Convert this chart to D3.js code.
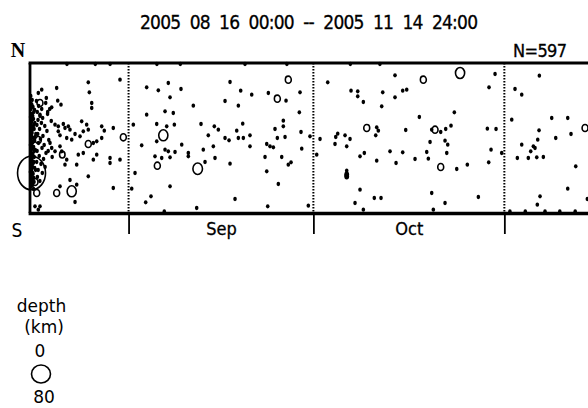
<!DOCTYPE html>
<html>
<head>
<meta charset="utf-8">
<script src="https://cdn.jsdelivr.net/npm/d3@7"></script>
<style>
body { margin: 0; background: #fff; }
svg text { font-family: "Liberation Sans Narrow", "DejaVu Sans Condensed", sans-serif; fill: #000; }
</style>
</head>
<body>
<svg id="chart" width="588" height="408"></svg>
<script>
// days since 2005-08-16 00:00, distance north of the S edge (0..150), magnitude (2 if left out)
var title = "2005  08  16  00:00  --  2005  11  14  24:00";
var countLabel = "N=597";
var tickMonths = ["2005-09-01", "2005-10-01", "2005-11-01"];
var depthLegend = ["depth", "(km)", "0", "80"];

var mainShock = [0.25, 40, 7.2];

var aftershocks = [
  [0.12,117],[0.35,113],[0.21,109],[0.48,106],[0.15,104],[0.62,101],[0.30,99],[0.09,96],[0.55,94],[0.27,91],
  [0.78,90],[0.18,88],[0.42,86],[0.66,84],[0.11,82],[0.33,80],[0.95,79],[0.24,77],[0.51,75],[0.14,73],
  [0.72,72],[0.37,70],[0.08,68],[0.58,66],[0.29,64],[0.86,63],[0.19,61],[0.45,59],[0.10,57],[0.68,56],
  [0.32,54],[0.23,52],[0.53,50],[0.13,48],[0.40,46],[0.76,45],[0.26,43],[0.07,41],[0.49,39],[0.17,37],
  [0.61,35],[0.34,33],[0.22,31],[0.44,28],[0.12,26],[0.57,24],[0.31,108],[0.74,103],[0.44,97],[0.20,93],
  [0.63,88],[0.35,83],[0.16,79],[0.83,76],[0.47,71],[0.25,67],[0.70,62],[0.38,58],[0.14,55],[0.60,51],
  [0.28,47],[0.90,43],[0.42,40],[0.18,36],[0.65,31],[0.36,29],
  [1.05,112],[1.40,107],[1.18,101],[1.62,97],[1.30,93],[2.05,95],[1.85,90],[1.12,88],[2.40,87],[1.55,84],
  [2.75,82],[1.25,79],[2.10,77],[1.70,74],[3.05,73],[1.38,70],[2.30,68],[1.95,65],[1.15,62],[2.60,60],
  [1.50,57],[2.20,54],[1.08,51],[1.78,49],[2.45,46],[1.32,43],[2.00,40],[1.20,36],[1.60,32],[2.55,110],
  [3.20,104],[2.85,99],[3.45,92],[2.95,62],[3.60,56],[1.90,104],[2.65,115],
  [1.35,73,3.5],[0.81,31,3.5],[1.09,20,3.5]
];

var augEvents = [
  [4.33,125],[9.46,130.7],[9.63,120.7],[10.02,110],[10.02,105],[14.61,133.3],[1.90,123.3],[1.35,120],
  [1.62,110,3.5],[4.50,112.3],[5.03,108.3],[3.52,105.7],[2.87,101],[1.62,98.3],[4.06,88.3],[4.59,86.7],
  [5.41,89],[5.68,85],[6.22,86.7],[6.49,83.3],[8.39,91.7],[9.20,88.3],[9.46,83.3],[11.64,86.7],
  [12.06,82.3],[13.52,85],[4.59,81.7],[4.87,77.7],[5.96,75],[6.77,73.3],[7.31,79],[8.12,76.7],
  [8.65,81.7],[9.46,69,3.5],[10.28,70],[10.83,71.7],[11.64,75],[15.15,75.7,3.5],[4.87,66.7],[5.15,61.7],
  [5.24,58.3,3.3],[3.25,70],[3.52,65],[4.06,61.7],[7.84,58.3],[8.65,60],[7.58,48.3],[10.28,53.3],
  [10.83,58.3],[12.99,55],[12.99,50],[14.61,53.3],[5.96,53.3],[5.68,48.3],[9.46,36.7],[13.52,25],
  [4.87,26.7],[4.33,20,3.5],[6.77,21.7,4.5],[7.58,28.3],[6.49,33],[7.31,11],[0.81,6.7],[1.35,3.3],
  [1.62,6.7],[6.0,149],[10.6,149],[13.0,149]
];

var sepEvents = [
  [18.94,125.7],[20.83,122.7],[22.45,130],[24.51,124],[22.73,115.7],[26.51,107.3],[31.66,112],[18.94,98.3],
  [21.92,101.7],[23.26,100],[16.77,88.3],[20.57,89],[22.19,86.7],[23.43,88.3],[27.76,89],[29.92,86.7],
  [30.57,83.3],[21.64,77.7,4.5],[20.57,71.7],[28.94,77.7],[31.66,75],[18.13,67.7],[21.92,63.3],[22.45,61.7],
  [23.54,61],[24.63,68.3],[25.70,60],[25.70,56.7],[28.13,63.3],[29.76,66.7],[20.29,56.7],[21.38,55],
  [22.73,55.7],[28.41,51],[30.03,55],[20.67,47.3,3.5],[27.22,44.3,4.6],[17.05,40],[22.73,26.7],[16.51,24.3],
  [19.64,16.7],[18.78,10.7],[27.06,5],[21.80,1.5],
  [32.47,131],[41.93,133.3,3.5],[34.20,122.3],[35.99,118.3],[38.69,120],[40.15,114.3,3.5],[41.56,112.3],
  [43.83,120.7],[33.82,107.3],[43.72,100.7],[34.53,89.3],[41.12,92.3],[41.12,86.7],[33.56,82.3],[39.77,84],
  [32.31,72.7],[33.82,75],[34.63,75],[35.71,77.7],[40.15,75],[41.40,76],[43.99,81],[45.45,76.7],[38.43,69],
  [38.96,66.7],[39.50,65.7],[35.71,66.7],[44.11,64.3],[38.15,56],[40.86,56],[42.37,50.7],[41.93,48.3],
  [32.47,49.3],[38.43,41.7],[40.31,29],[33.28,14],[38.59,6.7],[45.18,7.3],
  [20.6,149],[24.4,149],[34.9,149],[41.7,149]
];

var octEvents = [
  [46.54,58.3],[48.33,130.7],[59.25,137.7],[52.11,122.3],[53.20,121.7],[53.20,116.7],[57.26,120.7],
  [60.50,122.3],[61.15,123.3],[54.11,111],[59.25,115.7],[57.09,106.7],[54.66,85,3.5],[56.28,85.7],
  [56.54,82.3],[56.12,77.7],[60.99,83],[47.08,74],[49.95,79.3],[49.63,76],[51.14,77.7],[51.95,74],
  [49.51,69],[51.41,66.7],[54.27,60],[53.57,56.7],[56.28,52.3],[58.44,61.7],[60.50,60.7],[59.42,50],
  [62.50,54],[51.41,36.5,3],[51.41,38.5,3],[51.41,42.3],[53.57,23.3],[55.89,15],[56.98,15],[52.76,10],
  [54.11,3.3],
  [63.85,133.3,3.5],[69.81,140,4.5],[75.49,139],[74.51,125.7],[68.88,100.7],[63.20,96],[65.75,83.3,3.5],
  [65.21,83.3],[66.67,81],[67.48,84],[68.34,87.3],[74.24,84.3],[75.65,84],[64.94,71],[67.37,72.3],
  [67.81,68.3],[64.40,61],[67.65,60],[74.84,63.3],[76.57,60],[64.66,54.3],[74.46,50.7],[66.67,46,3.5],
  [69.27,44],[70.99,48.3],[65.21,20],[72.78,16],[67.37,10],[65.47,3.3],
  [52.0,149],[56.8,149]
];

var novEvents = [
  [82.68,137.3],[78.73,124],[79.82,118.3],[78.20,93.3],[84.69,95],[87.29,95],[90.10,85,3.5],[82.63,82.7],
  [87.82,79],[85.34,75],[82.42,73.3],[79.82,68.3],[81.71,66.7],[81.98,65],[81.28,61.7],[79.11,55],
  [80.89,55],[82.26,55.7],[83.33,56],[88.59,46.7],[87.29,24.3],[82.79,16.7],[82.35,8.3],[90.47,14],
  [77.9,1.5],[80.4,1.5],[83.6,1.5],[86.0,1.5],[88.5,1.5]
];

var t0 = Date.UTC(2005, 7, 16);
var t1 = Date.UTC(2005, 10, 15);
function when(day) { return new Date(t0 + day * 864e5); }

var x = d3.scaleUtc().domain([t0, t1]).range([30, 590.6]);
var y = d3.scaleLinear().domain([0, 150]).range([213, 63]);
var r = d3.scalePow().exponent(3).domain([2, 7.2]).range([1.8, 14]);

var events = [mainShock].concat(aftershocks, augEvents, sepEvents, octEvents, novEvents)
  .map(function (d) { return { day: d[0], pos: d[1], mag: d[2] || 2 }; });

var months = tickMonths.map(function (s) { return new Date(s + "T00:00:00Z"); });
// month names sit half way through each month; the last one falls past the plot
var mids = months.map(function (m) { return new Date((+m + +d3.utcMonth.offset(m, 1)) / 2); })
  .filter(function (d) { return +d < t1; });

var svg = d3.select("#chart");

// month separators
svg.append("g").selectAll("line")
  .data(months)
  .enter()
    .append("line")
    .attr("x1", function (d) { return x(d); })
    .attr("x2", function (d) { return x(d); })
    .attr("y1", y(150))
    .attr("y2", y(0))
    .attr("stroke", "#000")
    .attr("stroke-width", 2)
    .attr("stroke-dasharray", "1.5,1.5");

// events
svg.append("g").selectAll("ellipse")
  .data(events)
  .enter()
    .append("ellipse")
    .attr("cx", function (d) { return x(when(d.day)); })
    .attr("cy", function (d) { return y(d.pos); })
    .attr("rx", function (d) { return r(d.mag); })
    .attr("ry", function (d) { return r(d.mag) * 1.2; })
    .attr("fill", function (d) { return d.mag <= 3 ? "#000" : "none"; })
    .attr("stroke", function (d) { return d.mag <= 3 ? "none" : "#000"; })
    .attr("stroke-width", 1.6);

// frame
var frame = svg.append("g").attr("stroke", "#000");
frame.append("line").attr("x1", x.range()[0] - 1.4).attr("x2", x.range()[1]).attr("y1", y(150)).attr("y2", y(150)).attr("stroke-width", 2.8);
frame.append("line").attr("x1", x.range()[0] - 1.4).attr("x2", x.range()[1]).attr("y1", y(0) + 0.5).attr("y2", y(0) + 0.5).attr("stroke-width", 3.5);
frame.append("line").attr("x1", x.range()[0]).attr("x2", x.range()[0]).attr("y1", y(150)).attr("y2", y(0)).attr("stroke-width", 2.8);

// month ticks and labels
var tickG = svg.append("g").attr("transform", "translate(0," + y(0) + ")")
  .call(d3.axisBottom(x).tickValues(months).tickSize(21).tickFormat(""));
tickG.select(".domain").remove();
tickG.selectAll("line").attr("stroke-width", 1.8);

var labG = svg.append("g").attr("transform", "translate(0," + y(0) + ")")
  .call(d3.axisBottom(x).tickValues(mids).tickSize(0).tickPadding(9).tickFormat(d3.utcFormat("%b")));
labG.select(".domain").remove();
labG.attr("font-family", null).attr("font-size", null);
labG.selectAll("text").style("font-size", "18px").attr("stroke", "#000").attr("stroke-width", 0.3);

// titles
svg.append("text").attr("x", 309).attr("y", 29).attr("text-anchor", "middle")
  .attr("textLength", 338).attr("lengthAdjust", "spacing")
  .attr("stroke", "#000").attr("stroke-width", 0.3)
  .style("font-size", "19px").style("white-space", "pre").text(title);
svg.append("text").attr("x", 513).attr("y", 57).attr("textLength", 54)
  .attr("stroke", "#000").attr("stroke-width", 0.3)
  .style("font-size", "18px").text(countLabel);
svg.append("text").attr("x", 18).attr("y", 57).attr("text-anchor", "middle")
  .style("font-family", "'Liberation Serif', serif").style("font-weight", "bold").style("font-size", "20px").text("N");
svg.append("text").attr("x", 17).attr("y", 237).attr("text-anchor", "middle")
  .style("font-size", "19px").text("S");

// depth legend
var leg = svg.append("g").style("font-family", "'DejaVu Sans', sans-serif");
leg.append("text").attr("x", 41.5).attr("y", 312).attr("text-anchor", "middle").style("font-family", "inherit").style("font-size", "17px").text(depthLegend[0]);
leg.append("text").attr("x", 44).attr("y", 333).attr("text-anchor", "middle").style("font-family", "inherit").style("font-size", "17px").text(depthLegend[1]);
leg.append("text").attr("x", 40).attr("y", 357).attr("text-anchor", "middle").style("font-family", "inherit").style("font-size", "17px").text(depthLegend[2]);
leg.append("ellipse").attr("cx", 41).attr("cy", 374).attr("rx", 9.5).attr("ry", 9)
  .attr("fill", "none").attr("stroke", "#000").attr("stroke-width", 1.6);
leg.append("text").attr("x", 44).attr("y", 403).attr("text-anchor", "middle").style("font-family", "inherit").style("font-size", "17px").text(depthLegend[3]);
</script>
</body>
</html>
